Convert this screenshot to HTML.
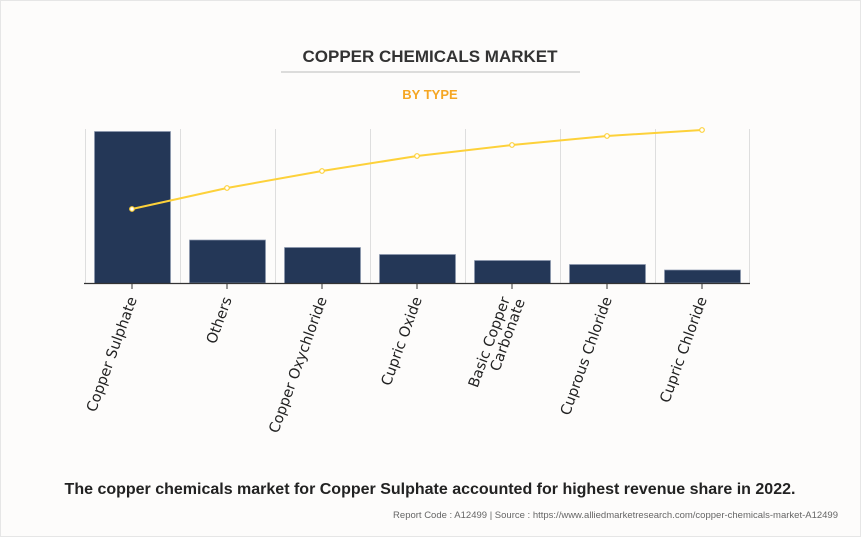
<!DOCTYPE html>
<html><head><meta charset="utf-8"><style>
body{margin:0;background:#fdfcfb;}
svg{display:block;}
</style></head><body>
<svg width="861" height="537" xmlns="http://www.w3.org/2000/svg">
<rect x="0" y="0" width="861" height="537" fill="#fdfcfb"/>
<rect x="0.5" y="0.5" width="860" height="536" fill="none" stroke="#e6e6e6"/>
<text x="430" y="62" text-anchor="middle" font-family="Liberation Sans, sans-serif" font-weight="bold" font-size="17" fill="#333">COPPER CHEMICALS MARKET</text>
<line x1="281" y1="72" x2="580" y2="72" stroke="#bbb"/>
<text x="430" y="99" text-anchor="middle" font-family="Liberation Sans, sans-serif" font-weight="bold" font-size="13" fill="#f5a623">BY TYPE</text>
<g stroke="#dedede" stroke-width="1">
<line x1="85.5" y1="129" x2="85.5" y2="283"/><line x1="180.5" y1="129" x2="180.5" y2="283"/><line x1="275.5" y1="129" x2="275.5" y2="283"/><line x1="370.5" y1="129" x2="370.5" y2="283"/><line x1="465.5" y1="129" x2="465.5" y2="283"/><line x1="560.5" y1="129" x2="560.5" y2="283"/><line x1="655.5" y1="129" x2="655.5" y2="283"/><line x1="749.5" y1="129" x2="749.5" y2="283"/>
</g>
<g fill="#243757" stroke="#8a97ad" stroke-width="0.7">
<rect x="94.5" y="131.5" width="76" height="152"/>
<rect x="189.5" y="240" width="76" height="43"/>
<rect x="284.5" y="247.5" width="76" height="36"/>
<rect x="379.5" y="254.5" width="76" height="29"/>
<rect x="474.5" y="260.5" width="76" height="23"/>
<rect x="569.5" y="264.5" width="76" height="19"/>
<rect x="664.5" y="270" width="76" height="13"/>
</g>
<line x1="84" y1="283.5" x2="750" y2="283.5" stroke="#333" stroke-width="1.2"/>
<g stroke="#333"><line x1="132" y1="284" x2="132" y2="289"/><line x1="227" y1="284" x2="227" y2="289"/><line x1="322" y1="284" x2="322" y2="289"/><line x1="417" y1="284" x2="417" y2="289"/><line x1="512" y1="284" x2="512" y2="289"/><line x1="607" y1="284" x2="607" y2="289"/><line x1="702" y1="284" x2="702" y2="289"/></g>
<polyline points="132,209 227,188 322,171 417,156 512,145 607,136 702,130" fill="none" stroke="#fdd13a" stroke-width="2"/>
<g fill="#fff" stroke="#fdd13a" stroke-width="1.2">
<circle cx="132" cy="209" r="2.3"/><circle cx="227" cy="188" r="2.3"/><circle cx="322" cy="171" r="2.3"/><circle cx="417" cy="156" r="2.3"/><circle cx="512" cy="145" r="2.3"/><circle cx="607" cy="136" r="2.3"/><circle cx="702" cy="130" r="2.3"/>
</g>
<g font-family="DejaVu Sans, sans-serif" font-size="14.5" fill="#222" text-anchor="end">
<text transform="translate(137,299) rotate(-70)">Copper Sulphate</text>
<text transform="translate(232,299) rotate(-70)">Others</text>
<text transform="translate(327,299) rotate(-70)">Copper Oxychloride</text>
<text transform="translate(422,299) rotate(-70)">Cupric Oxide</text>
<text transform="translate(510,299) rotate(-70)">Basic Copper</text>
<text transform="translate(525,301) rotate(-70)">Carbonate</text>
<text transform="translate(612,299) rotate(-70)">Cuprous Chloride</text>
<text transform="translate(707,299) rotate(-70)">Cupric Chloride</text>
</g>
<text x="430" y="494" text-anchor="middle" font-family="Liberation Sans, sans-serif" font-weight="bold" font-size="16" fill="#222">The copper chemicals market for Copper Sulphate accounted for highest revenue share in 2022.</text>
<text x="838" y="518" text-anchor="end" font-family="Liberation Sans, sans-serif" font-size="9.5" fill="#666">Report Code : A12499  |  Source : https://www.alliedmarketresearch.com/copper-chemicals-market-A12499</text>
</svg>
</body></html>
